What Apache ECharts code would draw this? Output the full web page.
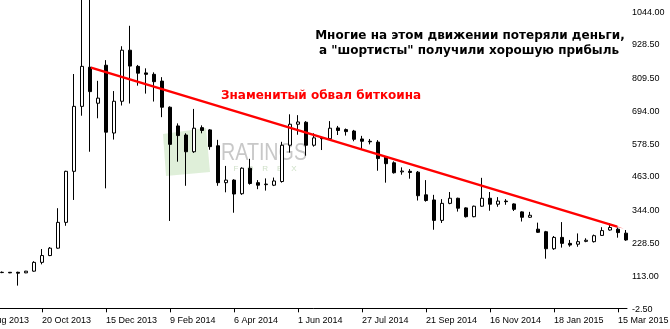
<!DOCTYPE html>
<html>
<head>
<meta charset="utf-8">
<title>Bitcoin weekly</title>
<script src="https://cdn.jsdelivr.net/npm/echarts@6/dist/echarts.min.js"></script>
<style>
html, body { margin: 0; padding: 0; background: #fff; }
#main { width: 670px; height: 329px; }
</style>
</head>
<body>
<div id="main"></div>
<script>
// weekly bars, one week (28 Dec 2014) is missing in the source data
var weeks = [
  '25 Aug 2013','1 Sep 2013','8 Sep 2013','15 Sep 2013','22 Sep 2013','29 Sep 2013','6 Oct 2013','13 Oct 2013',
  '20 Oct 2013','27 Oct 2013','3 Nov 2013','10 Nov 2013','17 Nov 2013','24 Nov 2013','1 Dec 2013','8 Dec 2013',
  '15 Dec 2013','22 Dec 2013','29 Dec 2013','5 Jan 2014','12 Jan 2014','19 Jan 2014','26 Jan 2014','2 Feb 2014',
  '9 Feb 2014','16 Feb 2014','23 Feb 2014','2 Mar 2014','9 Mar 2014','16 Mar 2014','23 Mar 2014','30 Mar 2014',
  '6 Apr 2014','13 Apr 2014','20 Apr 2014','27 Apr 2014','4 May 2014','11 May 2014','18 May 2014','25 May 2014',
  '1 Jun 2014','8 Jun 2014','15 Jun 2014','22 Jun 2014','29 Jun 2014','6 Jul 2014','13 Jul 2014','20 Jul 2014',
  '27 Jul 2014','3 Aug 2014','10 Aug 2014','17 Aug 2014','24 Aug 2014','31 Aug 2014','7 Sep 2014','14 Sep 2014',
  '21 Sep 2014','28 Sep 2014','5 Oct 2014','12 Oct 2014','19 Oct 2014','26 Oct 2014','2 Nov 2014','9 Nov 2014',
  '16 Nov 2014','23 Nov 2014','30 Nov 2014','7 Dec 2014','14 Dec 2014','21 Dec 2014','4 Jan 2015','11 Jan 2015',
  '18 Jan 2015','25 Jan 2015','1 Feb 2015','8 Feb 2015','15 Feb 2015','22 Feb 2015','1 Mar 2015','8 Mar 2015',
  '15 Mar 2015','22 Mar 2015'
];
var opens = [
  110,118,122,126,127,127,125,131, 162,186,212,303,483,712,850,723,
  857,618,730,910,853,830,825,801, 709,643,611,552,637,629,573,443,
  452,404,494,443,436,434,447,575, 649,656,575,600,598,636,630,625,
  597,589,586,535,513,481,483,480, 400,382,310,370,388,354,323,360,
  388,367,378,368,340,321,279,270, 210,250,229,226,236,235,257,276,
  279,265
];
var closes = [
  118,122,126,127,125,124,131,162, 186,212,303,483,712,853,764,741,
  621,730,910,854,829,825,799,709, 578,609,552,635,627,570,443,452,
  403,494,440,434,438,449,575,649, 657,575,601,598,635,627,623,596,
  589,587,528,510,478,484,479,397, 380,310,370,388,353,323,360,388,
  367,378,376,349,321,328,268,210, 250,229,223,235,240,256,274,285,
  267,241
];
var lows = [
  108,115,120,124,124, 80,124,129, 155,184,210,291,382,679,552,670,
  423,595,715,722,785,757,729,674, 308,517,432,548,617,559,432,409,
  337,400,436,420,415,431,443,549, 612,538,570,558,594,611,609,589,
  561,578,485,443,475,471,457,380, 376,277,301,367,341,320,321,358,
  344,358,365,343,306,319,266,175, 206,214,217,217,233,232,255,274,
  249,238
];
var highs = [
  122,126,128,130,128,129,132,166, 209,216,353,485,826,1150,1160,802,
  875,766,924,996,858,846,832,815, 712,652,617,703,645,632,594,502,
  455,497,527,452,458,461,587,684, 681,660,617,602,660,643,634,629,
  608,597,593,537,518,497,491,484, 452,400,385,410,390,356,362,460,
  410,392,385,370,342,340,302,273, 255,304,241,264,247,260,286,300,
  285,276
];
var xTickIdx = [0, 8, 16, 24, 32, 40, 48, 56, 64, 72, 80];
var yTicks = [-2.5, 113, 228.5, 344, 463, 578.5, 694, 809.5, 928.5, 1044];
// trend line: [bar index, price] start and end
var trend = [[14.125, 848.6], [79.9, 288]];

var candles = weeks.map(function (w, i) {
  return [i, opens[i], closes[i], lows[i], highs[i]];
});

var axisFont = 'Liberation Sans';
var myChart = echarts.init(document.getElementById('main'));
var option = {
  animation: false,
  backgroundColor: '#fff',
  grid: { left: -26, right: 43, top: 0, bottom: 17, outerBoundsMode: 'none' },
  xAxis: {
    type: 'value',
    min: -0.5,
    max: 81.125,
    axisLine: { show: true, lineStyle: { color: '#000', width: 1 } },
    axisTick: { show: true, customValues: xTickIdx, length: 4, lineStyle: { color: '#000' } },
    axisLabel: {
      customValues: xTickIdx,
      formatter: function (v) { return weeks[v]; },
      align: 'left',
      color: '#000',
      fontFamily: axisFont,
      fontSize: 9,
      margin: 4
    },
    splitLine: { show: false }
  },
  yAxis: {
    type: 'value',
    position: 'right',
    min: -13,
    max: 1087,
    axisLine: { show: true, lineStyle: { color: '#000', width: 1 } },
    axisTick: { show: true, customValues: yTicks, length: 4, lineStyle: { color: '#000' } },
    axisLabel: {
      customValues: yTicks,
      formatter: function (v) { return v.toFixed(2); },
      color: '#000',
      fontFamily: axisFont,
      fontSize: 9,
      margin: 5
    },
    splitLine: { show: false }
  },
  graphic: [
    {
      type: 'polygon', z: 0, silent: true,
      shape: { points: [[163, 134], [206, 128], [210, 172], [166, 176]] },
      style: { fill: '#d9ecd2', opacity: 0.85 }
    },
    {
      type: 'text', z: 0, silent: true, x: 221, y: 153,
      style: { text: 'RATINGS', fill: '#c8c8c8', font: '24px "Liberation Sans"', verticalAlign: 'middle' },
      scaleX: 0.82
    },
    {
      type: 'text', z: 0, silent: true, x: 265, y: 169,
      style: { text: 'F    O    R    E    X', fill: '#cfe0c8', font: '8px "Liberation Sans"', align: 'center', verticalAlign: 'middle' }
    },
    {
      type: 'text', z: 100, silent: true, x: 470, y: 36,
      style: { text: 'Многие на этом движении потеряли деньги,', fill: '#000', font: 'bold 12px "DejaVu Sans"', align: 'center', verticalAlign: 'middle' }
    },
    {
      type: 'text', z: 100, silent: true, x: 469, y: 51,
      style: { text: 'а "шортисты" получили хорошую прибыль', fill: '#000', font: 'bold 12px "DejaVu Sans"', align: 'center', verticalAlign: 'middle' }
    },
    {
      type: 'text', z: 100, silent: true, x: 221, y: 96,
      style: { text: 'Знаменитый обвал биткоина', fill: '#ff0000', font: 'bold 12px "DejaVu Sans"', align: 'left', verticalAlign: 'middle' }
    }
  ],
  series: [
    {
      type: 'candlestick',
      data: candles,
      encode: { x: 0, y: [1, 2, 3, 4] },
      barWidth: 4,
      clip: true,
      itemStyle: {
        color: '#fff',
        color0: '#000',
        borderColor: '#000',
        borderColor0: '#000',
        borderWidth: 1
      },
      markLine: {
        silent: true,
        symbol: ['none', 'triangle'],
        symbolSize: [1, 14],
        label: { show: false },
        lineStyle: { color: '#ff0000', width: 2.5, type: 'solid' },
        data: [[{ coord: trend[0] }, { coord: trend[1] }]]
      }
    }
  ]
};
myChart.setOption(option);
</script>
</body>
</html>
